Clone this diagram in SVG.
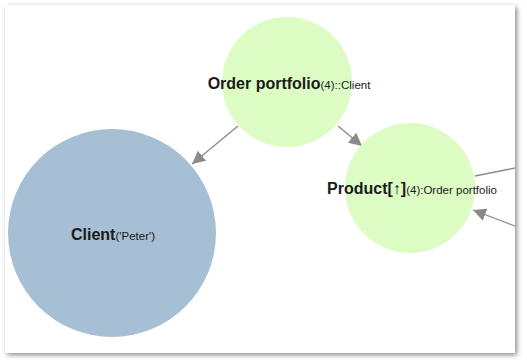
<svg xmlns="http://www.w3.org/2000/svg" width="527" height="363" viewBox="0 0 527 363">
<defs>
<filter id="sh" x="-5%" y="-5%" width="110%" height="110%"><feDropShadow dx="2" dy="2" stdDeviation="2.5" flood-color="#000" flood-opacity="0.45"/></filter>
<clipPath id="cp"><rect x="5" y="5" width="510" height="348"/></clipPath>
<marker id="ah" viewBox="0 0 10 10" refX="10" refY="5" markerWidth="13" markerHeight="13" markerUnits="userSpaceOnUse" orient="auto"><path d="M0,0 L10,5 L0,10 z" fill="#8a8a8a"/></marker>
<style>
.g{fill:#dcfcc4}
.b{fill:#a7bfd4}
.e{stroke:#8a8a8a;stroke-width:1.3;fill:none}
.t{font-family:"Liberation Sans",Arial,sans-serif;fill:#1a1a1a}
.big{font-weight:bold;font-size:16px}
.sm{font-size:11.5px}
</style>
</defs>
<rect x="5" y="5" width="510" height="348" fill="#fff" filter="url(#sh)"/>
<g clip-path="url(#cp)">
<g id="connectors">
<line class="e" x1="238" y1="126" x2="192" y2="164" marker-end="url(#ah)"/>
<line class="e" x1="338" y1="126" x2="362" y2="146" marker-end="url(#ah)"/>
<line class="e" x1="475" y1="176" x2="520" y2="167"/>
<line class="e" x1="520" y1="228" x2="473" y2="210" marker-end="url(#ah)"/>
</g>
<g id="order-portfolio">
<circle class="g" cx="287" cy="82" r="65"/>
<text class="t" x="289" y="89" text-anchor="middle"><tspan class="big">Order portfolio</tspan><tspan class="sm">(4)::Client</tspan></text>
</g>
<g id="product">
<circle class="g" cx="410" cy="188" r="65"/>
<text class="t" x="412" y="194" text-anchor="middle"><tspan class="big">Product[↑]</tspan><tspan class="sm">(4):Order portfolio</tspan></text>
</g>
<g id="client">
<circle class="b" cx="112" cy="233" r="104"/>
<text class="t" x="113" y="240" text-anchor="middle"><tspan class="big">Client</tspan><tspan class="sm">('Peter')</tspan></text>
</g>
</g>
</svg>
